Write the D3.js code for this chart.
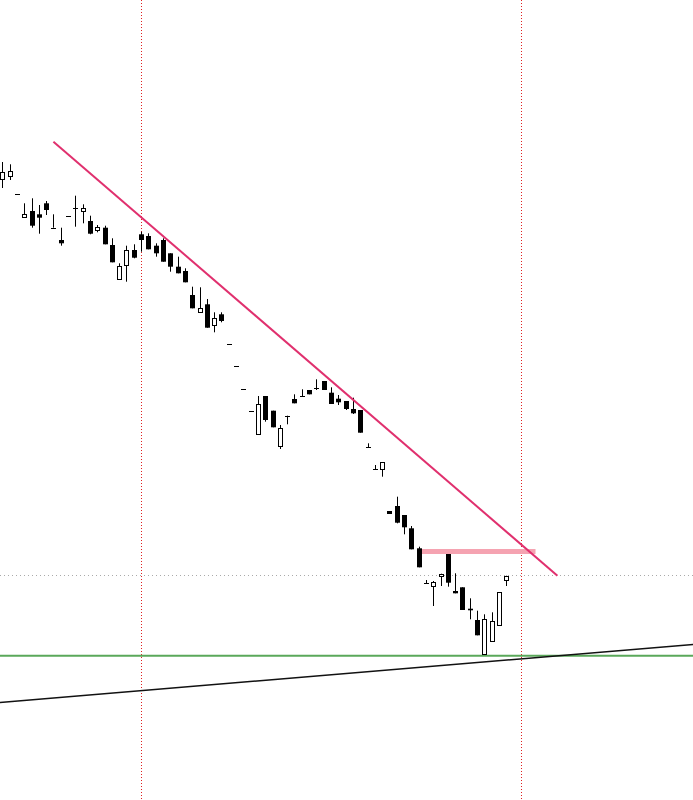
<!DOCTYPE html>
<html>
<head>
<meta charset="utf-8">
<script src="https://cdn.jsdelivr.net/npm/d3@7"></script>
<style>
html,body{margin:0;padding:0;background:#fff;}
svg{display:block;}
</style>
</head>
<body>
<svg id="chart" width="693" height="800"></svg>
<script>
// Candle OHLC values (arbitrary price units)
const opens  = [620.7,624.3,605.7,582.3,589,585.7,596.7,572.3,560,584,591.7,589.7,579,569.7,572.3,555,521.7,535,550,565.7,564,554.3,560,546.7,533.3,529,505,487.7,495.7,475,485.7,456,434,410.7,389,365.7,404,389.3,353.3,384.3,401,404,410,412.3,419,407.3,401.3,399,391,390,352.7,330.7,330.7,289,294,285,271.7,251.7,216.7,214,224,246,209,212.7,191.3,180,146,159.7,174.7,220];
const highs  = [638,635.7,605.7,596.7,601.7,595,599,585.7,572.3,584,604.3,595.7,584.3,575,574.3,561.7,536.7,554.3,555.7,568.3,566.7,556.7,561.7,546.7,543.3,531.7,513.3,512.7,501,487.7,487.7,456,434,410.7,389,404,404,389.3,375,384.3,405.7,410.7,410,420.7,419,412.7,405,399,402.3,390,356.7,335,337.7,289,303.3,285,274,253.3,220,219,226.3,246,226.7,212.7,201.7,189.3,185.7,187.7,207.7,224.3];
const lows   = [612,620,605.7,582.3,572.3,566.3,585,572.3,554.3,584,573.3,576.7,565.7,567.7,555.7,537.7,521.7,518.3,541.7,548.3,550.7,543.3,538.3,528.3,526.7,517.7,491.7,487.7,472.3,467.7,477.7,456,434,410.7,389,365.7,378.3,372.7,351,375.7,396.7,404,405.7,410,410,396,395,390,386,367.3,352.7,330.7,323.3,286,276.7,265.7,250.7,232.7,216.7,194,214,213.3,206.7,190,180.7,164.7,146,159.7,174.7,214];
const closes = [627.7,629,605.7,585.7,574.3,582.3,590,572.3,556.7,584,591.7,592.3,566.3,573,555.7,537.7,534.3,550,542.3,560,550.7,546.7,538.3,533.3,526.7,517.7,491.7,491.7,472.3,481.7,479,456,434,410.7,389,396,380,372.7,371.7,384.3,396.7,404,405.7,412.3,410,396,397.7,391,386.7,367.3,352.7,330.7,337.7,286,277.3,272.7,250.7,232.7,216.7,218.3,226.3,217.3,206.7,190,189.7,164.7,180.7,179.3,207.7,224.3];

// Drawn objects (bar index, price)
const trendLine   = [[7, 658.3], [76, 224.3]];
const supportLine = [[-1, 97.1], [95, 155.8]];
const levelZone   = {from: 57.1, to: 73, price: 248.5};
const greenLevel  = 144.3;
const grayLevel   = 225;
const vLines      = [19, 71];

const W = 693, H = 800;
const svg = d3.select("#chart");
const x = d3.scaleLinear().domain([0, 69]).range([2.3, 506.3]);
const y = d3.scaleLinear().domain([0, 800]).range([800, 0]);

const candles = opens.map((o, i) => ({i, o, h: highs[i], l: lows[i], c: closes[i]}));

// gray dotted horizontal
svg.append("line")
  .attr("x1", 0).attr("x2", W)
  .attr("y1", Math.round(y(grayLevel)) + 0.5).attr("y2", Math.round(y(grayLevel)) + 0.5)
  .attr("stroke", "#aaaaaa").attr("stroke-width", 1)
  .attr("stroke-dasharray", "1,3");

// red dotted verticals
svg.selectAll("line.v").data(vLines).enter().append("line")
  .attr("class", "v")
  .attr("x1", d => Math.round(x(d)) + 0.5).attr("x2", d => Math.round(x(d)) + 0.5)
  .attr("y1", 0).attr("y2", H)
  .attr("stroke", "#e02020").attr("stroke-width", 1)
  .attr("stroke-dasharray", "1,2");

// green horizontal level
svg.append("line")
  .attr("x1", 0).attr("x2", W)
  .attr("y1", y(greenLevel)).attr("y2", y(greenLevel))
  .attr("stroke", "#5aa85a").attr("stroke-width", 2);

// black support line
const lineGen = d3.line().x(d => x(d[0])).y(d => y(d[1]));
svg.append("path").datum(supportLine)
  .attr("d", lineGen).attr("fill", "none")
  .attr("stroke", "#111").attr("stroke-width", 1.4);

// pink zone
svg.append("line")
  .attr("x1", x(levelZone.from)).attr("x2", x(levelZone.to))
  .attr("y1", y(levelZone.price)).attr("y2", y(levelZone.price))
  .attr("stroke", "#f5a3b1").attr("stroke-width", 5);

// candles
const g = svg.append("g");
const bw = 5;
candles.forEach(d => {
  const cx = Math.round(x(d.i));
  g.append("line")
    .attr("x1", cx + 0.5).attr("x2", cx + 0.5)
    .attr("y1", y(d.h)).attr("y2", y(d.l))
    .attr("stroke", "#000").attr("stroke-width", 1);
  const top = y(Math.max(d.o, d.c)), bot = y(Math.min(d.o, d.c));
  const hgt = bot - top;
  if (hgt < 1.5) {
    g.append("line")
      .attr("x1", cx - 2).attr("x2", cx + 3)
      .attr("y1", Math.round(top) + 0.5).attr("y2", Math.round(top) + 0.5)
      .attr("stroke", "#000").attr("stroke-width", 1);
  } else if (d.c > d.o) {
    g.append("rect")
      .attr("x", cx - 2 + 0.5).attr("y", Math.round(top) + 0.5)
      .attr("width", bw - 1).attr("height", Math.max(1, Math.round(hgt)))
      .attr("fill", "#fff").attr("stroke", "#000").attr("stroke-width", 1);
  } else {
    g.append("rect")
      .attr("x", cx - 2).attr("y", top)
      .attr("width", bw).attr("height", hgt)
      .attr("fill", "#000");
  }
});

// trend line
svg.append("path").datum(trendLine)
  .attr("d", lineGen).attr("fill", "none")
  .attr("stroke", "#e0306e").attr("stroke-width", 2);
</script>
</body>
</html>
